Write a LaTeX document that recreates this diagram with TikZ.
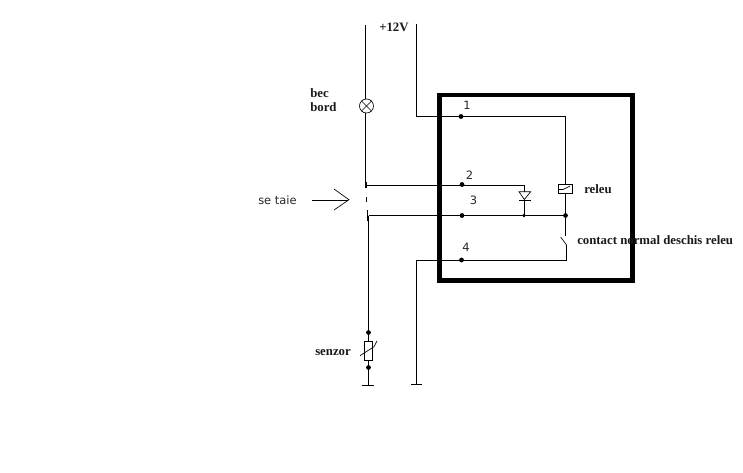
\documentclass[tikz,border=0pt]{standalone}
\usepackage{fontspec}
\setmainfont{Liberation Serif}
\setsansfont{DejaVu Sans}
\tikzset{
  wire/.style={line width=0.62pt,line cap=butt},
  thin part/.style={line width=0.5pt},
  dotn/.style={circle,fill=black,inner sep=0pt,minimum size=3.6pt},
  smalldot/.style={circle,fill=black,inner sep=0pt,minimum size=2.8pt},
  boldlabel/.style={font=\bfseries\fontsize{9.6}{11}\selectfont,inner sep=0pt,text=black!90},
  pinlabel/.style={font=\sffamily\fontsize{8.6}{10}\selectfont,inner sep=0pt,text=black!85}
}
\begin{document}
\begin{tikzpicture}[x=0.75pt,y=-0.75pt]
\useasboundingbox (0,0) rectangle (743,472);
% module frame
\draw[line width=3.6pt,miter limit=10] (439.7,95) rectangle (632.3,280.3);
% named points
\node[circle,draw,line width=0.5pt,inner sep=0pt,minimum size=10.5pt] (lamp) at (366.5,106) {};
\node[dotn] (p1) at (461,116.5) {};
\node[dotn] (p2) at (462,184.5) {};
\node[dotn] (p3) at (462,215.5) {};
\node[dotn] (p4) at (461.5,260) {};
\node[smalldot] (dj) at (524,215.5) {};
\node[dotn] (rj) at (565.5,215.5) {};
\node[draw,line width=0.5pt,inner sep=0pt,minimum width=10.8pt,minimum height=7pt] (coil) at (565.5,189) {};
\node[draw,line width=0.5pt,inner sep=0pt,minimum width=6pt,minimum height=14pt] (sens) at (368.3,351) {};
\node[dotn] (s1) at (368.5,332.5) {};
\node[dotn] (s2) at (368.5,367.5) {};
\coordinate (lampTop) at (365.5,25);
\coordinate (j2) at (365.5,185.5);
\coordinate (c2) at (524.5,185.5);
\coordinate (v12) at (416.5,24);
\coordinate (c1a) at (416.5,116.5);
\coordinate (c1b) at (565.5,116.5);
\coordinate (j3) at (368.5,215.5);
\coordinate (g1) at (368.5,385);
\coordinate (sw1) at (565.5,236);
\coordinate (sw2) at (566.5,245);
\coordinate (sw0) at (560.7,237);
\coordinate (c4b) at (566.5,260.5);
\coordinate (c4a) at (416.5,260.5);
\coordinate (g2) at (416.5,384);
\coordinate (dtop) at (524.5,192);
\coordinate (dbot) at (524.5,200);
% wires
\draw[wire] (lampTop) -- (lamp.north -| lampTop);
\draw[wire] (lamp.south -| lampTop) -- (j2) -- (c2) -- (dtop);
\draw[wire] (v12) -- (c1a) -- (c1b) -- (coil.north);
\draw[wire] (coil.south) -- (rj) -- (sw1);
\draw[wire] (j3) -- (rj);
\draw[wire] (dbot) -- (dbot |- dj);
\draw[wire] (j3) -- (s1) -- (sens.north -| s1);
\draw[wire] (sens.south -| s2) -- (s2) -- (g1);
\draw[wire] (sw2) -- (c4b) -- (c4a) -- (g2);
\draw[wire] (362,385.5) -- (373.5,385.5);
\draw[wire] (411,384.5) -- (422,384.5);
% cut marks
\draw[line width=0.8pt] (366,182) -- (366,188);
\draw[line width=0.7pt] (366.3,197) -- (366.3,202);
\draw[line width=1pt] (367.8,210) -- (367.8,221);
% lamp cross
\draw[thin part] (lamp.north west) -- (lamp.south east);
\draw[thin part] (lamp.north east) -- (lamp.south west);
% coil inner
\draw[thin part] (559,189.5) -- (563,189.5) -- (570,186);
% switch
\draw[thin part] (sw0) -- (sw2);
% diode
\draw[thin part] (519,191.7) -- (530.7,191.7) -- (524.3,199.5) -- cycle;
\draw[thin part] (519,200.5) -- (530.5,200.5);
% sensor
\draw[thin part] (360,355.7) -- (374,346.7) -- (377,341);
% arrow
\draw[wire] (312,200.5) -- (348,200.5);
\draw[thin part] (334,189) -- (349,199.7) -- (334,210);
% labels
\node[pinlabel,anchor=west] (t0) at (258,200.5) {se taie};
\node[pinlabel] (n1) at (467,105) {1};
\node[pinlabel] (n2) at (469.5,175) {2};
\node[pinlabel] (n3) at (473.5,200.5) {3};
\node[pinlabel] (n4) at (466,247.5) {4};
\node[boldlabel,anchor=west] (tb) at (310,93) {bec};
\node[boldlabel,anchor=west] (tc) at (310,107.5) {bord};
\node[boldlabel,anchor=west] (tv) at (379,27.5) {+12V};
\node[boldlabel,anchor=west] (tr) at (584,189) {releu};
\node[boldlabel,anchor=west] (ts) at (315,352.5) {senzor};
\node[boldlabel,anchor=west] (tk) at (577,240) {contact normal deschis releu};
\end{tikzpicture}
\end{document}
